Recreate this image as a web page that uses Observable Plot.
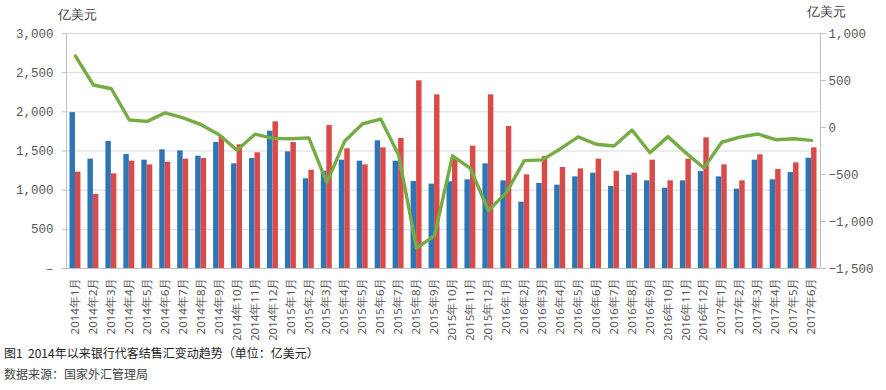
<!DOCTYPE html>
<html><head><meta charset="utf-8">
<script src="https://cdn.jsdelivr.net/npm/d3@7"></script>
<script src="https://cdn.jsdelivr.net/npm/@observablehq/plot@0.6"></script>
<style>
body{margin:0;background:#fff;font-family:"Noto Sans CJK SC","Noto Sans",sans-serif;}
#wrap{position:relative;width:886px;height:390px;}
.cap{position:absolute;left:4px;font-size:12px;white-space:pre;}
</style></head><body>
<div id="wrap"></div>
<script>
const months = ["2014年1月","2014年2月","2014年3月","2014年4月","2014年5月","2014年6月","2014年7月","2014年8月","2014年9月","2014年10月","2014年11月","2014年12月",
"2015年1月","2015年2月","2015年3月","2015年4月","2015年5月","2015年6月","2015年7月","2015年8月","2015年9月","2015年10月","2015年11月","2015年12月",
"2016年1月","2016年2月","2016年3月","2016年4月","2016年5月","2016年6月","2016年7月","2016年8月","2016年9月","2016年10月","2016年11月","2016年12月",
"2017年1月","2017年2月","2017年3月","2017年4月","2017年5月","2017年6月"];
// 结汇 (blue)
const settlement = [1990,1396,1621,1455,1383,1515,1502,1434,1608,1336,1404,1753,
1489,1145,1238,1383,1370,1630,1370,1111,1077,1106,1132,1336,
1119,847,1085,1064,1170,1217,1047,1191,1119,1025,1119,1238,
1170,1013,1383,1132,1225,1408];
// 售汇 (red)
const sales = [1230,945,1208,1370,1323,1357,1396,1404,1686,1579,1477,1872,
1608,1255,1825,1528,1323,1540,1660,2396,2217,1407,1562,2217,
1813,1196,1429,1289,1272,1396,1238,1217,1383,1119,1396,1668,
1323,1119,1451,1264,1349,1540];
// 差额 (green, right axis)
const net = [760,452,412,80,65,156,102,30,-78,-242,-71,-116,
-120,-110,-586,-143,40,90,-292,-1284,-1150,-301,-436,-884,
-693,-352,-344,-228,-100,-178,-197,-27,-268,-97,-270,-431,
-157,-102,-69,-130,-120,-137];

const leftTicks = [0,500,1000,1500,2000,2500,3000];
const rightTicks = [-1500,-1000,-500,0,500,1000];
const toLeft = v => (v + 1500) * 3000 / 2500;
const fromLeft = y => y * 2500 / 3000 - 1500;

const data = months.map((m,i)=>({month:m, s:settlement[i], b:sales[i], n:net[i]}));
const fmt = d3.format(",");
const numFont = "Liberation Mono, monospace";

const edges = (index, scales, values, dims) => {
  const g = d3.create("svg:g");
  const t = dims.marginTop, b = dims.height - dims.marginBottom;
  const l = dims.marginLeft, r = dims.width - dims.marginRight;
  g.append("line").attr("x1",l+0.5).attr("x2",l+0.5).attr("y1",t).attr("y2",b).attr("stroke","#bfbfbf");
  g.append("line").attr("x1",r+0.5).attr("x2",r+0.5).attr("y1",t).attr("y2",b).attr("stroke","#bfbfbf");
  g.append("line").attr("x1",l).attr("x2",r).attr("y1",b+0.5).attr("y2",b+0.5).attr("stroke","#bfbfbf");
  return g.node();
};

const chart = Plot.plot({
  width: 886, height: 340,
  marginLeft: 66, marginRight: 66, marginTop: 33, marginBottom: 72,
  style: {background:"#fff", color:"#595959"},
  x: {type:"band", domain: months, padding: 0, label: null},
  y: {domain:[0,3000], label: null},
  marks: [
    Plot.gridY(leftTicks.slice(1), {stroke:"#d9d9d9", strokeOpacity:1}),
    Plot.barY(data, {x:"month", y:"s", fill:"#2E75B6", insetLeft:3.5, insetRight:9}),
    Plot.barY(data, {x:"month", y:"b", fill:"#D94B4B", insetLeft:9, insetRight:3.5}),
    Plot.lineY(data, {x:"month", y: d => toLeft(d.n), stroke:"#75AC43", strokeWidth:3.4, strokeLinejoin:"round"}),
    edges,
    Plot.axisY({ticks: leftTicks, tickSize:4, tickPadding:9, tickFormat: d => d===0 ? "–" : fmt(d), fontSize:12.5, fontFamily:numFont, stroke:"#bfbfbf", fill:"#595959"}),
    Plot.axisY({anchor:"right", ticks: rightTicks.map(toLeft), tickSize:5, tickPadding:3, tickFormat: d => { const v = Math.round(fromLeft(d)); return v<0 ? "−"+fmt(-v) : fmt(v); }, fontSize:12.5, fontFamily:numFont, stroke:"#bfbfbf", fill:"#595959"}),
    Plot.axisX({tickRotate:-90, tickSize:0, tickPadding:9, fontSize:11.5, fill:"#595959", label:null}),
    Plot.text(["亿美元"], {frameAnchor:"top-left", dx:-9, dy:-24, fontSize:13, fill:"#404040", textAnchor:"start"}),
    Plot.text(["亿美元"], {frameAnchor:"top-right", dx:-14, dy:-27, fontSize:13, fill:"#404040", textAnchor:"start"})
  ]
});
const wrap = document.getElementById("wrap");
wrap.appendChild(chart);
const c1 = document.createElement("div"); c1.className="cap"; c1.style.top="344px"; c1.style.color="#222";
c1.textContent = "图1  2014年以来银行代客结售汇变动趋势（单位：亿美元）";
const c2 = document.createElement("div"); c2.className="cap"; c2.style.top="365px"; c2.style.color="#444";
c2.textContent = "数据来源：国家外汇管理局";
wrap.appendChild(c1); wrap.appendChild(c2);
</script></body></html>
